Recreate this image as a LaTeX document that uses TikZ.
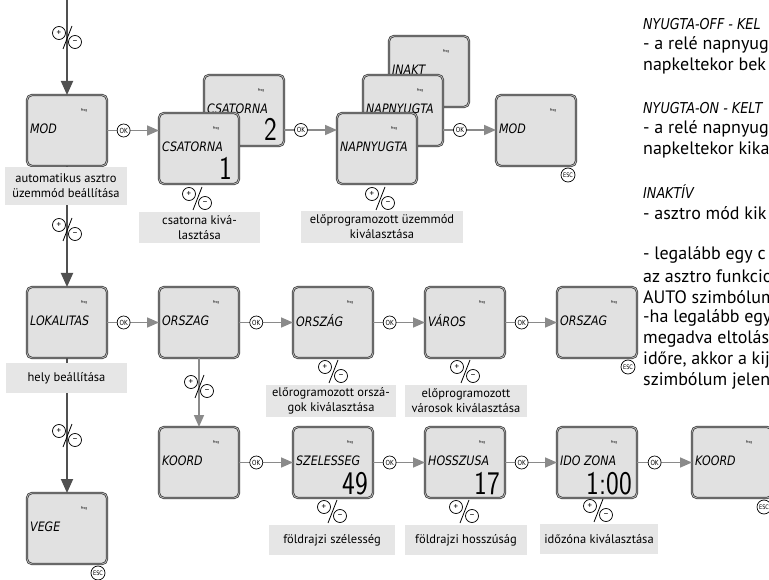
\documentclass[tikz,border=0pt]{standalone}
\usepackage{fontspec}
\setmainfont{PT Sans}
\newfontfamily\lcdf{DejaVu Sans}[FakeStretch=0.85]
\newfontfamily\digf{Latin Modern Sans}[FakeStretch=0.82]
\newfontfamily\smallf{DejaVu Sans}[FakeStretch=0.8]
\usetikzlibrary{arrows.meta,calc}
\definecolor{lcdfill}{HTML}{E1E1E1}
\definecolor{lcdedge}{HTML}{3A3A3A}
\definecolor{lcdring}{HTML}{BDBDBD}
\definecolor{labfill}{HTML}{E6E6E6}
\definecolor{conncol}{HTML}{8A8A8A}
\definecolor{maincol}{HTML}{505050}
\newcommand\lcdbox[4]{%
  \node[lcd,anchor=north west] (#1) at (#2,#3) {};
  \node[prog] (#1p) at ($(#1.north west)+(57,16)$) {Prog};
  \node[lcdtxt] (#1t) at ($(#1.north west)+(3,34)$) {#4};}
\newcommand\pmsym[2]{%
  \coordinate (#1) at (#2);
  \draw[line width=0.8pt] ($(#1)+(-4,12)$) -- ($(#1)+(5,-11)$);
  \node[pmc] (#1a) at ($(#1)+(-8,-4)$) {+};
  \node[pmc] (#1b) at ($(#1)+(8,5)$) {\raisebox{0.6pt}{–}};}
\newcommand\okarrow[3]{%
  \draw[connline] (#1) -- node[okc,pos=0.32] (#3) {OK} (#1 -| #2.west);}
\begin{document}
\begin{tikzpicture}[x=1pt,y=-1pt,
  lcd/.style={rectangle, rounded corners=5pt, minimum width=80pt, minimum height=71pt,
    inner sep=0pt, outer sep=0pt, fill=lcdfill, draw=lcdedge, line width=0.75pt,
    double=lcdring, double distance=0.8pt},
  prog/.style={font=\smallf\fontsize{3.6}{4}\selectfont, inner sep=0pt},
  lcdtxt/.style={font=\lcdf\itshape\fontsize{13}{14}\selectfont, anchor=west, inner sep=0pt},
  dig/.style={font=\digf\fontsize{33}{33}\selectfont, anchor=base east, inner sep=0pt},
  lab/.style={fill=labfill, align=center, font=\fontsize{12.5}{15}\selectfont, inner sep=0pt},
  okc/.style={circle, draw=black, line width=0.7pt, fill=white, minimum size=13pt,
    inner sep=0pt, font=\smallf\fontsize{7}{7}\selectfont},
  escc/.style={circle, draw=black, line width=0.7pt, fill=white, minimum size=14pt,
    inner sep=0pt, font=\smallf\fontsize{6.2}{6}\selectfont},
  pmc/.style={circle, draw=black, line width=0.7pt, fill=white, minimum size=13pt,
    inner sep=0pt, font=\fontsize{9}{9}\selectfont},
  connline/.style={draw=conncol, line width=1.6pt, -{Triangle[length=12pt,width=10pt]}},
  mainarrow/.style={draw=maincol, line width=1.8pt, -{Triangle[length=14pt,width=12pt]}},
  rtxt/.style={anchor=west, inner sep=0pt, font=\fontsize{18}{20}\selectfont},
  rhead/.style={anchor=west, inner sep=0pt, font=\lcdf\itshape\fontsize{15}{16}\selectfont}
]
\useasboundingbox (0,0) rectangle (769,580);
\begin{scope}
\clip (0,0) rectangle (769,580);
% ---------- row 1 ----------
\lcdbox{MOD}{27}{95}{MOD}
\lcdbox{CSB}{204}{75}{CSATORNA}
\node[dig] (CSBd) at ($(CSB.north east)+(-7,66)$) {2};
\lcdbox{CSA}{159}{113}{CSATORNA}
\node[dig] (CSAd) at ($(CSA.north east)+(-7,67)$) {1};
\lcdbox{INK}{389}{36}{INAKT}
\lcdbox{NM}{363}{75}{NAPNYUGTA}
\lcdbox{NF}{337}{113}{NAPNYUGTA}
\lcdbox{MODB}{496}{95}{MOD}
% ---------- row 2 ----------
\lcdbox{LOK}{27}{287}{LOKALITAS}
\lcdbox{ORA}{159}{287}{ORSZAG}
\lcdbox{ORB}{293}{287}{ORSZÁG}
\lcdbox{VAR}{425}{287}{VÁROS}
\lcdbox{ORC}{557}{287}{ORSZAG}
% ---------- row 3 ----------
\lcdbox{VEGE}{27}{493}{VEGE}
\lcdbox{KOA}{159}{427}{KOORD}
\lcdbox{SZE}{293}{427}{SZELESSEG}
\node[dig] (SZEd) at ($(SZE.north east)+(-5,67)$) {49};
\lcdbox{HOS}{425}{427}{HOSSZUSA}
\node[dig] (HOSd) at ($(HOS.north east)+(-5,67)$) {17};
\lcdbox{IDO}{557}{427}{IDO ZONA}
\node[dig] (IDOd) at ($(IDO.north east)+(-5,67)$) {1:00};
\lcdbox{KOB}{692}{427}{KOORD}
% ---------- horizontal connectors ----------
\coordinate (sA) at (MOD.east);
\okarrow{sA}{CSA}{okA}
\coordinate (sB) at ($(CSB.north east)+(0,55)$);
\okarrow{sB}{NF}{okB}
\coordinate (sC) at ($(NM.north east)+(0,55)$);
\okarrow{sC}{MODB}{okC}
\coordinate (sD) at (LOK.east);
\okarrow{sD}{ORA}{okD}
\coordinate (sE) at (ORA.east);
\okarrow{sE}{ORB}{okE}
\coordinate (sF) at (ORB.east);
\okarrow{sF}{VAR}{okF}
\coordinate (sG) at (VAR.east);
\okarrow{sG}{ORC}{okG}
\coordinate (sH) at (KOA.east);
\okarrow{sH}{SZE}{okH}
\coordinate (sI) at (SZE.east);
\okarrow{sI}{HOS}{okI}
\coordinate (sJ) at (HOS.east);
\okarrow{sJ}{IDO}{okJ}
\coordinate (sK) at (IDO.east);
\okarrow{sK}{KOB}{okK}
% ---------- vertical connectors ----------
\coordinate (topin) at (67,0);
\draw[mainarrow] (topin) -- (MOD.north);
\draw[mainarrow] (MOD.south) -- (LOK.north);
\draw[mainarrow] (LOK.south) -- (VEGE.north);
\draw[connline] (ORA.south) -- (KOA.north);
% ---------- labels ----------
\node[lab, minimum width=122pt, minimum height=38pt] (L1) at (66,186) {automatikus asztro\\üzemmód beállítása};
\node[lab, minimum width=121pt, minimum height=31pt] (L2) at (199.5,227.5) {csatorna kivá-\\lasztása};
\node[lab, minimum width=162pt, minimum height=32pt] (L3) at (382,227) {előprogramozott üzemmód\\kiválasztása};
\node[lab, minimum width=121pt, minimum height=30pt] (L4) at (66.5,378) {hely beállítása};
\node[lab, minimum width=130pt, minimum height=32pt] (L5) at (331,401) {előrogramozott orszá-\\gok kiválasztása};
\node[lab, minimum width=122pt, minimum height=32pt] (L6) at (466,401) {előprogramozott\\városok kiválasztása};
\node[lab, minimum width=126pt, minimum height=30pt] (L7) at (332,540) {földrajzi szélesség};
\node[lab, minimum width=122pt, minimum height=30pt] (L8) at (466,540) {földrajzi hosszúság};
\node[lab, minimum width=118pt, minimum height=30pt] (L9) at (599,539) {időzóna kiválasztása};
% ---------- plus / minus ----------
\pmsym{pmA}{67,37}
\pmsym{pmB}{67,229}
\pmsym{pmC}{67,435}
\pmsym{pmD}{197,198}
\pmsym{pmE}{380,198}
\pmsym{pmF}{199,386}
\pmsym{pmG}{333,371}
\pmsym{pmH}{465,371}
\pmsym{pmI}{332,511}
\pmsym{pmJ}{464,511}
\pmsym{pmK}{598,510}
% ---------- ESC ----------
\node[escc] (escA) at ($(MODB.south east)+(-8,9)$) {ESC};
\node[escc] (escB) at ($(ORC.south east)+(-9,9)$) {ESC};
\node[escc] (escC) at ($(VEGE.south east)+(-9,9)$) {ESC};
\node[escc] (escD) at ($(KOB.south east)+(-8,9)$) {ESC};
% ---------- right text ----------
\node[rhead] (r1) at (643,24) {NYUGTA-OFF - KEL};
\node[rtxt] (r2) at (643,45) {- a relé napnyug};
\node[rtxt] (r3) at (643,66) {napkeltekor bek};
\node[rhead] (r4) at (643,108) {NYUGTA-ON - KELT};
\node[rtxt] (r5) at (643,129) {- a relé napnyug};
\node[rtxt] (r6) at (643,150) {napkeltekor kika};
\node[rhead] (r7) at (643,192) {INAKTÍV};
\node[rtxt] (r8) at (643,213) {- asztro mód kik};
\node[rtxt] (r9) at (643,255) {- legalább egy c};
\node[rtxt] (r10) at (643,276) {az asztro funkcio};
\node[rtxt] (r11) at (643,297) {AUTO szimbólum};
\node[rtxt] (r12) at (643,318) {-ha legalább egy};
\node[rtxt] (r13) at (643,339) {megadva eltolás};
\node[rtxt] (r14) at (643,360) {időre, akkor a kij};
\node[rtxt] (r15) at (643,381) {szimbólum jelen};
\end{scope}
\end{tikzpicture}
\end{document}
